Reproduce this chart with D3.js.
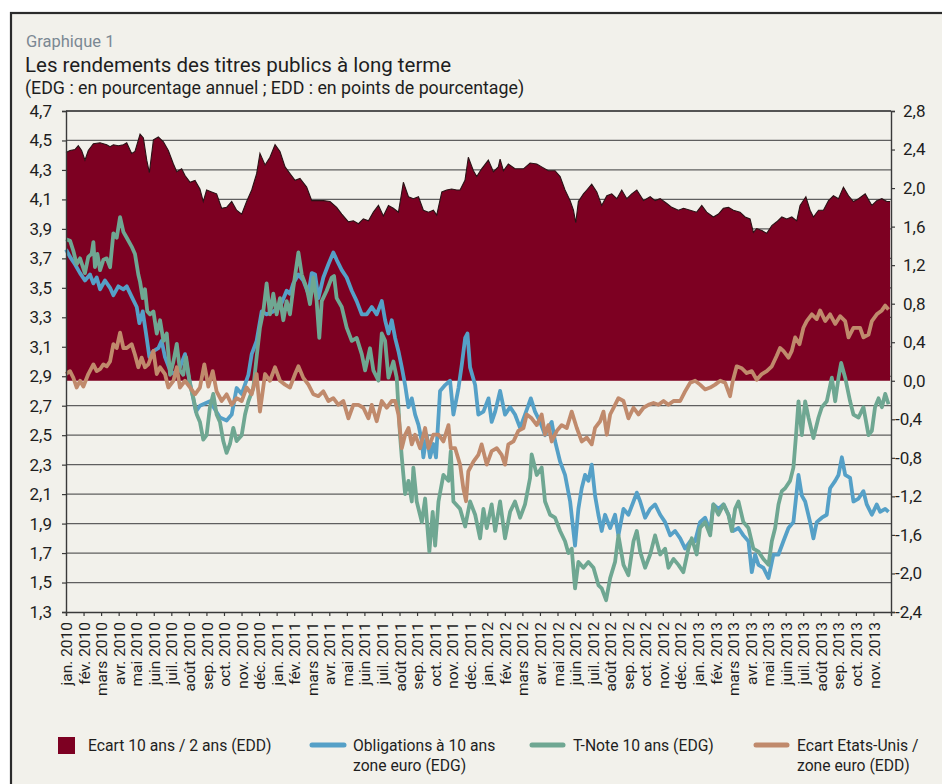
<!DOCTYPE html>
<html>
<head>
<meta charset="utf-8">
<script src="https://cdn.jsdelivr.net/npm/d3@7/dist/d3.min.js"></script>
<style>
  html, body { margin: 0; padding: 0; background: #ffffff; }
  svg { display: block; }
  text { font-family: Roboto, "Noto Sans", sans-serif; }
</style>
</head>
<body>
<svg id="chart" width="942" height="784"></svg>
<script>
// ---------- DATA (t = months since January 2010, value) ----------
const monthNames = ["jan.","fév.","mars","avr.","mai","juin","juil.","août","sep.","oct.","nov.","déc."];
const years = [2010, 2011, 2012, 2013];
const leftTicks = [1.3,1.5,1.7,1.9,2.1,2.3,2.5,2.7,2.9,3.1,3.3,3.5,3.7,3.9,4.1,4.3,4.5,4.7];
const rightTicks = [-2.4,-2.0,-1.6,-1.2,-0.8,-0.4,0.0,0.4,0.8,1.2,1.6,2.0,2.4,2.8];

// Ecart 10 ans / 2 ans (EDD, right axis)
const spread10y2y = [[0.0,2.37],[0.23,2.39],[0.51,2.40],[0.70,2.44],[0.89,2.39],[1.08,2.29],[1.27,2.39],[1.56,2.46],[1.94,2.47],[2.32,2.45],[2.51,2.43],[2.70,2.45],[2.98,2.44],[3.27,2.45],[3.46,2.47],[3.74,2.36],[3.93,2.38],[4.22,2.56],[4.41,2.52],[4.60,2.29],[4.75,2.16],[4.98,2.50],[5.26,2.53],[5.55,2.48],[5.83,2.39],[6.12,2.25],[6.31,2.17],[6.59,2.20],[6.78,2.13],[7.07,2.06],[7.35,2.08],[7.63,1.99],[7.82,1.86],[8.01,1.98],[8.30,1.96],[8.58,1.94],[8.87,1.79],[9.15,1.80],[9.44,1.86],[9.72,1.77],[10.01,1.73],[10.29,1.86],[10.58,1.98],[10.86,2.15],[11.05,2.36],[11.34,2.24],[11.62,2.32],[11.91,2.45],[12.19,2.38],[12.48,2.22],[12.76,2.15],[13.05,2.08],[13.33,2.10],[13.71,2.01],[14.00,1.87],[14.28,1.87],[14.66,1.87],[15.04,1.86],[15.42,1.80],[15.71,1.73],[16.09,1.65],[16.37,1.66],[16.66,1.63],[16.94,1.68],[17.23,1.66],[17.51,1.75],[17.80,1.82],[18.08,1.71],[18.37,1.82],[18.65,1.79],[18.94,1.75],[19.22,2.06],[19.51,1.91],[19.79,1.89],[20.08,1.91],[20.36,1.77],[20.65,1.75],[20.93,1.77],[21.12,1.72],[21.41,1.96],[21.69,1.98],[21.97,1.99],[22.26,1.98],[22.45,1.98],[22.73,2.08],[22.92,2.32],[23.21,2.18],[23.40,2.12],[23.68,2.20],[24.06,2.29],[24.35,2.17],[24.63,2.22],[24.73,2.30],[24.92,2.18],[25.20,2.25],[25.58,2.20],[26.06,2.20],[26.44,2.26],[26.82,2.25],[27.10,2.22],[27.48,2.18],[27.86,2.18],[28.15,2.12],[28.43,1.98],[28.72,1.87],[28.91,1.77],[29.04,1.64],[29.19,1.86],[29.48,1.94],[29.67,1.98],[29.95,2.04],[30.24,1.96],[30.52,1.82],[30.81,1.92],[31.09,1.94],[31.38,1.89],[31.66,1.98],[31.95,1.89],[32.23,1.94],[32.52,1.98],[32.90,1.87],[33.28,1.91],[33.56,1.87],[33.85,1.89],[34.23,1.84],[34.51,1.80],[34.89,1.77],[35.18,1.79],[35.56,1.77],[35.93,1.75],[36.22,1.82],[36.50,1.75],[36.88,1.70],[37.17,1.73],[37.45,1.79],[37.74,1.80],[38.02,1.77],[38.40,1.75],[38.69,1.70],[38.97,1.68],[39.16,1.54],[39.35,1.58],[39.64,1.56],[39.92,1.53],[40.21,1.61],[40.49,1.65],[40.78,1.70],[41.06,1.68],[41.35,1.70],[41.63,1.66],[41.82,1.82],[42.15,1.91],[42.39,1.77],[42.58,1.70],[42.87,1.77],[43.15,1.77],[43.44,1.87],[43.72,1.92],[44.01,1.89],[44.29,2.01],[44.58,1.92],[44.86,1.86],[45.15,1.89],[45.53,1.94],[45.91,1.82],[46.19,1.87],[46.48,1.89],[46.76,1.86],[46.95,1.86]];

// Obligations à 10 ans zone euro (EDG, left axis)
const euroBonds = [[0.0,3.76],[0.23,3.71],[0.51,3.66],[0.80,3.60],[1.08,3.55],[1.37,3.59],[1.56,3.53],[1.75,3.57],[1.94,3.49],[2.22,3.55],[2.51,3.50],[2.70,3.45],[2.98,3.51],[3.27,3.49],[3.46,3.51],[3.74,3.44],[4.03,3.37],[4.18,3.26],[4.37,3.34],[4.56,3.19],[4.75,3.03],[4.98,3.07],[5.26,3.09],[5.45,3.14],[5.64,3.03],[5.93,2.94],[6.21,2.91],[6.49,2.96],[6.78,3.05],[6.97,2.91],[7.16,2.80],[7.40,2.66],[7.63,2.70],[8.20,2.73],[8.77,2.62],[9.15,2.60],[9.44,2.64],[9.72,2.82],[10.01,2.78],[10.39,2.91],[10.58,3.05],[10.86,3.14],[11.15,3.34],[11.43,3.32],[11.81,3.34],[12.19,3.37],[12.57,3.48],[12.76,3.46],[12.95,3.53],[13.24,3.59],[13.52,3.55],[13.81,3.46],[14.00,3.60],[14.19,3.59],[14.38,3.43],[14.66,3.57],[14.95,3.66],[15.23,3.74],[15.42,3.69],[15.71,3.62],[15.99,3.57],[16.28,3.48],[16.56,3.41],[16.85,3.32],[17.13,3.32],[17.42,3.37],[17.70,3.32],[17.99,3.41],[18.18,3.28],[18.37,3.19],[18.56,3.28],[18.75,3.16],[18.94,3.07],[19.13,2.96],[19.32,2.84],[19.51,2.69],[19.70,2.75],[19.89,2.64],[20.08,2.57],[20.27,2.46],[20.36,2.35],[20.55,2.50],[20.74,2.35],[20.93,2.44],[21.08,2.35],[21.31,2.80],[21.60,2.84],[21.88,2.87],[22.07,2.64],[22.36,2.82],[22.55,2.98],[22.74,3.16],[22.87,3.19],[23.02,2.96],[23.31,2.84],[23.49,2.64],[23.78,2.66],[24.07,2.75],[24.25,2.59],[24.45,2.66],[24.73,2.80],[25.01,2.64],[25.30,2.69],[25.58,2.64],[25.87,2.55],[26.15,2.64],[26.48,2.75],[26.72,2.66],[27.01,2.59],[27.29,2.50],[27.48,2.55],[27.67,2.59],[27.86,2.46],[28.15,2.32],[28.43,2.23],[28.72,2.05],[29.00,1.75],[29.19,2.00],[29.38,2.14],[29.57,2.23],[29.76,2.19],[29.95,2.30],[30.14,2.09],[30.33,1.96],[30.52,1.85],[30.71,1.96],[31.00,1.87],[31.28,1.96],[31.47,1.82],[31.76,2.00],[32.04,1.96],[32.33,2.05],[32.52,2.11],[32.71,2.05],[32.99,1.94],[33.28,2.00],[33.56,2.03],[33.85,1.96],[34.13,1.91],[34.42,1.82],[34.70,1.85],[34.99,1.80],[35.27,1.73],[35.56,1.78],[35.84,1.78],[36.12,1.91],[36.41,1.94],[36.70,1.85],[36.88,2.03],[37.17,2.00],[37.46,2.03],[37.74,1.96],[38.02,1.85],[38.31,1.87],[38.59,1.82],[38.88,1.78],[39.07,1.57],[39.26,1.69],[39.45,1.62],[39.73,1.60],[40.02,1.53],[40.30,1.69],[40.59,1.69],[40.87,1.78],[41.16,1.87],[41.44,1.91],[41.73,2.23],[41.92,2.09],[42.11,2.05],[42.39,1.91],[42.58,1.80],[42.77,1.91],[43.06,1.94],[43.34,1.96],[43.53,2.14],[43.82,2.19],[44.01,2.23],[44.20,2.35],[44.39,2.23],[44.67,2.21],[44.86,2.05],[45.15,2.07],[45.43,2.12],[45.62,2.03],[45.91,1.96],[46.19,2.03],[46.38,1.98],[46.67,2.00],[46.86,1.98]];

// T-Note 10 ans (EDG, left axis)
const tNote = [[0.0,3.83],[0.23,3.82],[0.42,3.75],[0.61,3.66],[0.80,3.70],[1.08,3.60],[1.27,3.71],[1.46,3.73],[1.56,3.81],[1.65,3.64],[1.79,3.73],[1.94,3.62],[2.13,3.69],[2.32,3.70],[2.51,3.64],[2.70,3.87],[2.89,3.84],[3.08,3.98],[3.27,3.88],[3.46,3.84],[3.74,3.78],[3.93,3.73],[4.12,3.59],[4.22,3.54],[4.37,3.43],[4.50,3.49],[4.63,3.34],[4.79,3.32],[4.98,3.34],[5.17,3.19],[5.36,3.28],[5.55,3.14],[5.74,3.19],[5.93,2.91],[6.12,3.00],[6.31,3.12],[6.49,2.94],[6.68,2.91],[6.84,3.03],[7.07,2.84],[7.26,2.75],[7.45,2.64],[7.63,2.59],[7.82,2.47],[8.01,2.50],[8.20,2.69],[8.39,2.78],[8.58,2.64],[8.77,2.59],[8.96,2.46],[9.15,2.38],[9.34,2.44],[9.53,2.55],[9.72,2.46],[10.01,2.50],[10.20,2.64],[10.39,2.73],[10.67,2.82],[10.86,3.03],[11.05,3.23],[11.24,3.34],[11.43,3.53],[11.62,3.32],[11.81,3.46],[12.00,3.32],[12.19,3.43],[12.38,3.28],[12.57,3.41],[12.76,3.32],[12.95,3.50],[13.24,3.74],[13.43,3.59],[13.71,3.50],[13.90,3.39],[14.09,3.57],[14.28,3.41],[14.43,3.16],[14.57,3.41],[14.85,3.48],[15.14,3.57],[15.27,3.58],[15.42,3.43],[15.71,3.37],[15.99,3.23],[16.28,3.14],[16.56,3.16],[16.85,3.05],[17.04,2.94],[17.32,3.09],[17.51,2.94],[17.80,2.87],[17.99,3.19],[18.18,3.14],[18.37,2.89],[18.65,3.00],[18.84,2.89],[19.03,2.50],[19.13,2.35],[19.32,2.10],[19.51,2.19],[19.70,2.05],[19.79,2.28],[19.98,2.05],[20.27,1.91],[20.46,2.07],[20.70,1.71],[20.89,1.98],[21.03,1.75],[21.22,2.05],[21.50,2.23],[21.79,2.19],[21.92,2.39],[22.07,2.05],[22.45,2.00],[22.74,1.88],[23.02,2.05],[23.31,1.96],[23.59,1.80],[23.78,2.00],[23.97,1.87],[24.25,2.03],[24.45,1.85],[24.73,2.05],[25.01,1.80],[25.30,1.98],[25.58,2.05],[25.87,1.94],[26.15,2.03],[26.44,2.21],[26.53,2.37],[26.82,2.23],[27.10,2.28],[27.29,2.05],[27.58,1.96],[27.86,1.94],[28.15,1.85],[28.43,1.78],[28.62,1.70],[28.81,1.73],[29.00,1.46],[29.19,1.64],[29.48,1.60],[29.76,1.64],[30.05,1.60],[30.34,1.48],[30.52,1.46],[30.77,1.38],[31.00,1.53],[31.28,1.64],[31.47,1.82],[31.76,1.62],[32.04,1.55],[32.33,1.78],[32.52,1.85],[32.71,1.71],[32.99,1.60],[33.28,1.69],[33.56,1.82],[33.85,1.69],[34.13,1.73],[34.32,1.60],[34.61,1.66],[34.89,1.62],[35.17,1.57],[35.46,1.73],[35.65,1.80],[35.93,1.69],[36.12,1.87],[36.41,1.91],[36.70,1.82],[36.88,2.03],[37.17,1.96],[37.46,2.03],[37.74,1.96],[37.93,1.85],[38.12,2.00],[38.31,2.05],[38.59,1.91],[38.88,1.87],[39.16,1.73],[39.45,1.71],[39.73,1.66],[40.02,1.62],[40.21,1.78],[40.40,1.87],[40.59,2.03],[40.78,2.12],[40.97,2.14],[41.25,2.19],[41.44,2.28],[41.59,2.50],[41.73,2.73],[41.92,2.50],[42.11,2.73],[42.30,2.62],[42.58,2.48],[42.87,2.62],[43.06,2.69],[43.34,2.73],[43.63,2.89],[43.82,2.73],[44.01,2.89],[44.16,2.99],[44.39,2.89],[44.67,2.73],[44.86,2.64],[45.15,2.62],[45.43,2.69],[45.72,2.50],[45.91,2.53],[46.09,2.69],[46.29,2.75],[46.48,2.69],[46.67,2.78],[46.86,2.71]];

// Ecart Etats-Unis / zone euro (EDD, right axis)
const usEuroSpread = [[0.0,0.07],[0.23,0.10],[0.42,0.03],[0.61,-0.07],[0.80,0.00],[0.99,-0.06],[1.27,0.07],[1.56,0.17],[1.75,0.10],[1.94,0.12],[2.13,0.17],[2.32,0.15],[2.51,0.20],[2.70,0.38],[2.89,0.34],[3.08,0.50],[3.27,0.34],[3.46,0.34],[3.74,0.38],[3.93,0.27],[4.12,0.14],[4.31,0.24],[4.50,0.14],[4.69,0.17],[4.98,0.31],[5.17,0.07],[5.36,0.14],[5.64,0.07],[5.83,-0.07],[6.12,0.00],[6.31,0.14],[6.49,-0.07],[6.78,0.00],[7.07,-0.07],[7.35,-0.14],[7.63,-0.07],[7.88,0.17],[8.11,-0.06],[8.36,0.10],[8.58,-0.11],[8.87,-0.21],[9.15,-0.14],[9.44,-0.25],[9.72,-0.18],[10.01,-0.21],[10.29,-0.07],[10.58,-0.14],[10.86,0.07],[11.05,-0.32],[11.34,0.07],[11.62,0.00],[11.91,0.14],[12.19,0.00],[12.48,-0.04],[12.76,-0.07],[13.05,0.07],[13.24,0.15],[13.52,0.03],[13.81,-0.04],[14.09,-0.14],[14.38,-0.16],[14.66,-0.11],[14.95,-0.21],[15.23,-0.18],[15.52,-0.25],[15.80,-0.21],[16.09,-0.39],[16.37,-0.25],[16.66,-0.25],[16.94,-0.28],[17.23,-0.39],[17.42,-0.25],[17.70,-0.42],[17.99,-0.21],[18.27,-0.28],[18.56,-0.21],[18.75,-0.21],[18.94,-0.35],[19.13,-0.70],[19.32,-0.56],[19.51,-0.49],[19.70,-0.66],[19.89,-0.56],[20.17,-0.70],[20.46,-0.49],[20.65,-0.70],[20.93,-0.56],[21.22,-0.56],[21.50,-0.63],[21.79,-0.46],[21.92,-0.70],[22.17,-0.70],[22.45,-0.87],[22.64,-1.12],[22.79,-1.25],[22.92,-0.94],[23.21,-0.84],[23.49,-0.77],[23.68,-0.66],[23.97,-0.87],[24.25,-0.73],[24.54,-0.70],[24.82,-0.77],[25.01,-0.87],[25.20,-0.66],[25.49,-0.63],[25.77,-0.52],[26.06,-0.49],[26.25,-0.35],[26.53,-0.39],[26.82,-0.46],[27.10,-0.35],[27.29,-0.56],[27.48,-0.46],[27.67,-0.63],[27.96,-0.52],[28.24,-0.46],[28.53,-0.49],[28.81,-0.32],[29.10,-0.49],[29.38,-0.63],[29.67,-0.59],[29.95,-0.66],[30.14,-0.49],[30.43,-0.42],[30.62,-0.32],[30.81,-0.56],[31.00,-0.35],[31.28,-0.25],[31.47,-0.18],[31.76,-0.21],[32.04,-0.39],[32.33,-0.28],[32.61,-0.35],[32.90,-0.28],[33.18,-0.25],[33.47,-0.23],[33.75,-0.25],[34.04,-0.21],[34.32,-0.25],[34.61,-0.21],[34.99,-0.21],[35.27,-0.11],[35.56,-0.02],[35.84,0.00],[36.12,-0.04],[36.41,-0.09],[36.70,-0.07],[36.98,-0.04],[37.27,0.00],[37.55,-0.02],[37.83,-0.16],[37.99,0.00],[38.21,0.15],[38.50,0.13],[38.78,0.08],[39.07,0.10],[39.35,0.01],[39.64,0.07],[39.92,0.10],[40.21,0.15],[40.49,0.26],[40.68,0.34],[40.87,0.31],[41.16,0.24],[41.35,0.31],[41.54,0.45],[41.79,0.38],[42.01,0.55],[42.20,0.62],[42.49,0.69],[42.77,0.64],[42.96,0.73],[43.25,0.62],[43.53,0.69],[43.82,0.59],[44.10,0.67],[44.39,0.62],[44.58,0.45],[44.86,0.55],[45.24,0.55],[45.43,0.45],[45.72,0.48],[45.91,0.62],[46.19,0.69],[46.48,0.73],[46.67,0.78],[46.86,0.74]];

const legendLabels = [
  ["Ecart 10 ans / 2 ans (EDD)"],
  ["Obligations à 10 ans", "zone euro (EDG)"],
  ["T-Note 10 ans (EDG)"],
  ["Ecart Etats-Unis /", "zone euro (EDD)"]
];

// ---------- STYLE ----------
const C = {
  bg: "#f2f1eb", frame: "#2b2b2b", red: "#7d0022", blue: "#55a0c7",
  green: "#6fa792", brown: "#c08a6c", grid: "#5f5f5f", text: "#1e1e1e", sub: "#7b8893"
};

const svg = d3.select("#chart");
const W = 942, H = 784;
const M = { left: 66, right: 891, top: 111, bottom: 612 };

// frame
svg.append("rect").attr("x", 0).attr("y", 0).attr("width", W).attr("height", H).attr("fill", "#ffffff");
svg.append("rect").attr("x", 11).attr("y", 13).attr("width", W + 20).attr("height", H + 20)
  .attr("fill", C.bg).attr("stroke", C.frame).attr("stroke-width", 2.2);

// titles
svg.append("text").attr("x", 26).attr("y", 47).attr("font-size", 16.5).attr("fill", C.sub).text("Graphique 1");
svg.append("text").attr("x", 25).attr("y", 72).attr("font-size", 20.5).attr("fill", C.text).text("Les rendements des titres publics à long terme");
svg.append("text").attr("x", 25).attr("y", 94).attr("font-size", 17.8).attr("fill", C.text).text("(EDG : en pourcentage annuel ; EDD : en points de pourcentage)");

// scales
const x = d3.scaleLinear().domain([0, 47]).range([M.left, M.right]);
const yL = d3.scaleLinear().domain([1.3, 4.7]).range([M.bottom, M.top]);
const yR = d3.scaleLinear().domain([-2.4, 2.8]).range([M.bottom, M.top]);
const fmt = v => d3.format(".1f")(v).replace(".", ",").replace("−", "-");

// gridlines (left axis ticks)
svg.append("g").selectAll("line").data(leftTicks.filter(v => v > 1.31)).join("line")
  .attr("x1", M.left).attr("x2", M.right)
  .attr("y1", d => yL(d)).attr("y2", d => yL(d))
  .attr("stroke", C.grid).attr("stroke-width", 1.2);

// area (10y/2y spread)
const area = d3.area().x(d => x(d[0])).y0(yR(0)).y1(d => yR(d[1])).curve(d3.curveLinear);
svg.append("path").datum(spread10y2y).attr("d", area).attr("fill", C.red);
const topLine = d3.line().x(d => x(d[0])).y(d => yR(d[1]));
svg.append("path").datum(spread10y2y).attr("d", topLine).attr("fill", "none")
  .attr("stroke", "#2a1216").attr("stroke-width", 1.1);

// lines
const lineL = d3.line().x(d => x(d[0])).y(d => yL(d[1]));
const lineR = d3.line().x(d => x(d[0])).y(d => yR(d[1]));
svg.append("path").datum(euroBonds).attr("d", lineL).attr("fill", "none")
  .attr("stroke", C.blue).attr("stroke-width", 3.8).attr("stroke-linejoin", "round");
svg.append("path").datum(tNote).attr("d", lineL).attr("fill", "none")
  .attr("stroke", C.green).attr("stroke-width", 3.8).attr("stroke-linejoin", "round");
svg.append("path").datum(usEuroSpread).attr("d", lineR).attr("fill", "none")
  .attr("stroke", C.brown).attr("stroke-width", 3.8).attr("stroke-linejoin", "round");

// axes
const axisColor = "#3a3a3a";
// left axis
const gL = svg.append("g").attr("transform", `translate(${M.left},0)`)
  .call(d3.axisLeft(yL).tickValues(leftTicks).tickSize(4).tickFormat(fmt));
gL.select(".domain").attr("stroke", axisColor).attr("stroke-width", 1.4);
gL.selectAll(".tick line").attr("stroke", axisColor).attr("stroke-width", 1.2);
gL.selectAll(".tick text").attr("x", -14).attr("font-size", 17).attr("fill", C.text)
  .attr("font-family", "Roboto, sans-serif");

// right axis
const gR = svg.append("g").attr("transform", `translate(${M.right},0)`)
  .call(d3.axisRight(yR).tickValues(rightTicks).tickSize(4).tickFormat(fmt));
gR.select(".domain").attr("stroke", axisColor).attr("stroke-width", 1.4);
gR.selectAll(".tick line").attr("stroke", axisColor).attr("stroke-width", 1.2);
gR.selectAll(".tick text").attr("x", d => d < 0 ? 4 : 12).attr("font-size", 17).attr("fill", C.text)
  .attr("font-family", "Roboto, sans-serif");

// top border
svg.append("line").attr("x1", M.left).attr("x2", M.right).attr("y1", M.top).attr("y2", M.top)
  .attr("stroke", axisColor).attr("stroke-width", 1.4);

// bottom axis
const monthTicks = d3.range(0, 47);
const gB = svg.append("g").attr("transform", `translate(0,${M.bottom})`)
  .call(d3.axisBottom(x).tickValues(monthTicks).tickSize(4)
    .tickFormat(i => `${monthNames[i % 12]} ${years[Math.floor(i / 12)]}`));
gB.select(".domain").attr("stroke", axisColor).attr("stroke-width", 1.4);
gB.selectAll(".tick line").attr("stroke", axisColor).attr("stroke-width", 1.2);
gB.selectAll(".tick text")
  .attr("font-size", 15.5).attr("fill", C.text).attr("font-family", "Roboto, sans-serif")
  .attr("text-anchor", "end").attr("transform", "rotate(-90)")
  .attr("x", -10).attr("y", 0).attr("dy", "0.36em");

// legend
const lg = svg.append("g").attr("font-size", 15.7).attr("fill", C.text);
lg.append("rect").attr("x", 58).attr("y", 737).attr("width", 17).attr("height", 17).attr("fill", C.red);
const legItems = [
  { sx: 88, lines: legendLabels[0] },
  { sx: 353, lines: legendLabels[1], color: C.blue, lx1: 312, lx2: 344 },
  { sx: 573, lines: legendLabels[2], color: C.green, lx1: 532, lx2: 563 },
  { sx: 797, lines: legendLabels[3], color: C.brown, lx1: 756, lx2: 787 }
];
legItems.forEach(it => {
  if (it.color) {
    lg.append("line").attr("x1", it.lx1).attr("x2", it.lx2).attr("y1", 745).attr("y2", 745)
      .attr("stroke", it.color).attr("stroke-width", 5).attr("stroke-linecap", "round");
  }
  it.lines.forEach((t, i) => {
    lg.append("text").attr("x", it.sx).attr("y", 751 + i * 20).text(t);
  });
});
</script>
</body>
</html>
